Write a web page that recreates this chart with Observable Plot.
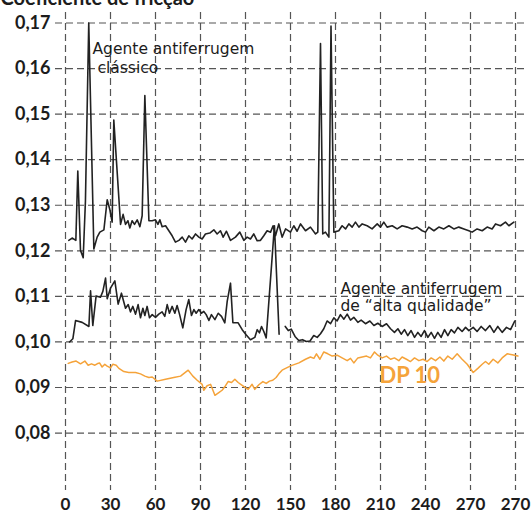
<!DOCTYPE html>
<html>
<head>
<meta charset="utf-8">
<script src="https://cdn.jsdelivr.net/npm/d3@7"></script>
<script src="https://cdn.jsdelivr.net/npm/@observablehq/plot@0.6"></script>
<style>
  html, body { margin: 0; padding: 0; background: #ffffff; }
  #chart { width: 531px; height: 515px; overflow: hidden; }
</style>
</head>
<body>
<div id="chart"></div>
<script>
// ---- Data ----
const titleText = "Coeficiente de fricção";

const xTicks = [0, 30, 60, 90, 120, 150, 180, 210, 240, 270, 300];
const xTickLabels = ["0", "30", "60", "90", "120", "150", "180", "210", "240", "270", "270"];
const yTicks = [0.08, 0.09, 0.10, 0.11, 0.12, 0.13, 0.14, 0.15, 0.16, 0.17];
const yTickLabels = ["0,08", "0,09", "0,10", "0,11", "0,12", "0,13", "0,14", "0,15", "0,16", "0,17"];

// "Agente antiferrugem clássico"
const classicDays = [2.2, 4.4, 6.9, 8.2, 10, 11.8, 13.3, 15.5, 18.9, 21.1, 22.9, 25.6, 27.8, 29.6, 31.1, 32.2,
  36.7, 38.4, 40, 41.6, 42.9, 44.4, 46, 47.8, 49.6, 51.1, 52.9, 55.6, 57.8, 60, 61.6, 62.9, 64.4, 66.7,
  68.9, 71.1, 73.3, 75.6, 77.8, 80, 82.2, 84.4, 86.7, 88.9, 91.1, 93.3, 96.2, 98.9, 101.1, 103.3, 105.1,
  107.3, 110, 113.3, 116.2, 118.9, 121.1, 123.3, 125.5, 127.8, 130, 132.2, 134.4, 136.7, 138.4, 140,
  142.2, 144.4, 146.7, 150, 152.2, 154.4, 156.7, 160, 163.3, 166.7, 168.2, 170, 171.5, 173.3, 175.6, 177,
  178.9, 182.2, 184.4, 186.7, 188.9, 191.1, 193.3, 195.6, 197.8, 201.1, 204.4, 207.8, 210, 212.2, 214.4,
  217.8, 221.1, 224.4, 227.8, 231.1, 234.4, 237.8, 240, 242.2, 245.6, 248.9, 252.2, 255.6, 258.9, 262.2,
  265.6, 268.9, 271.1, 274.4, 277.8, 281.1, 284.4, 286.7, 290, 293.3, 295.6, 298.9];
const classicValues = [0.1223, 0.1228, 0.1223, 0.1375, 0.1201, 0.1185, 0.1310, 0.1700, 0.1204, 0.1230, 0.1241, 0.1246, 0.1312, 0.1290, 0.1263, 0.1487,
  0.1258, 0.1280, 0.1258, 0.1266, 0.1250, 0.1266, 0.1258, 0.1268, 0.1253, 0.1277, 0.1541, 0.1266, 0.1266, 0.1268, 0.1258, 0.1268, 0.1253, 0.1255,
  0.1244, 0.1233, 0.1219, 0.1223, 0.1230, 0.1219, 0.1233, 0.1226, 0.1237, 0.1230, 0.1226, 0.1237, 0.1239, 0.1246, 0.1237, 0.1244, 0.1230,
  0.1243, 0.1223, 0.1230, 0.1241, 0.1223, 0.1230, 0.1226, 0.1237, 0.1222, 0.1223, 0.1233, 0.1244, 0.1241, 0.1255, 0.1233,
  0.1259, 0.1230, 0.1248, 0.1241, 0.1255, 0.1243, 0.1259, 0.1244, 0.1252, 0.1237, 0.1241, 0.1655, 0.1237, 0.1241, 0.1230, 0.1693,
  0.1241, 0.1244, 0.1255, 0.1248, 0.1259, 0.1252, 0.1263, 0.1252, 0.1259, 0.1255, 0.1248, 0.1259, 0.1252, 0.1263, 0.1252,
  0.1255, 0.1248, 0.1255, 0.1252, 0.1248, 0.1252, 0.1244, 0.1241, 0.1252, 0.1244, 0.1252, 0.1248, 0.1255, 0.1248, 0.1252,
  0.1248, 0.1244, 0.1241, 0.1248, 0.1244, 0.1252, 0.1248, 0.1259, 0.1255, 0.1263, 0.1255, 0.1263];

// "Agente antiferrugem de “alta qualidade”" (null = gap in the trace)
const qualityDays = [2.7, 4.9, 6.7, 11.1, 15.6, 16.7, 18.2, 20.4, 23.3, 24.9, 26.7, 27.8, 30, 32.9, 35.1, 37.3,
  40, 41.8, 43.3, 44.9, 46.7, 48.4, 50, 51.6, 52.9, 54.4, 56, 57.8, 60, 62.2, 64.4, 66.2, 67.8, 69.3, 71.1,
  72.9, 74.4, 76, 78.2, 80.4, 82.2, 84, 85.6, 87.1, 88.9, 90.7, 92.2, 93.8, 95.6, 97.3, 99.6, 101.8, 104,
  106.2, 107.8, 110, 111.6, 115.1, 117.8, 120.4, 123.3, 126.2, 127.8, 129.3, 130.7, 132.2, 133.8, 139.3,
  142.4, 144.5, 146.5, 148.5, 150.5, 153, 155.5, 158, 160.5, 163, 165.5, 167.8, 170, 172.2, 174.4, 176.7,
  178.9, 181.1, 183.3, 185.6, 187.8, 190, 192.2, 194.9, 197.1, 200, 202.9, 205.6, 208.2, 211.1, 214, 216.7,
  219.3, 221.6, 223.8, 226, 228.2, 230.4, 232.7, 234.9, 237.1, 239.3, 241.6, 243.8, 246, 248.2, 250.4,
  252.7, 254.9, 257.1, 259.3, 261.6, 264.4, 266.7, 268.9, 271.8, 274.4, 277.1, 280, 282.9, 285.6, 288.2,
  291.1, 294, 296.7, 299.5];
const qualityValues = [0.1000, 0.1007, 0.1047, 0.1043, 0.1034, 0.1112, 0.1036, 0.1101, 0.1098, 0.1111, 0.1140, 0.1095, 0.1118, 0.1134, 0.1083, 0.1107,
  0.1074, 0.1082, 0.1066, 0.1078, 0.1061, 0.1082, 0.1053, 0.1074, 0.1058, 0.1078, 0.1053, 0.1060, 0.1054, 0.1061, 0.1066, 0.1056, 0.1082, 0.1063, 0.1078,
  0.1063, 0.1080, 0.1061, 0.1031, 0.1071, 0.1093, 0.1058, 0.1071, 0.1063, 0.1071, 0.1063, 0.1067, 0.1060, 0.1047, 0.1060, 0.1049, 0.1063, 0.1056,
  0.1042, 0.1089, 0.1129, 0.1042, 0.1042, 0.1027, 0.1016, 0.1005, 0.1010, 0.1027, 0.1020, 0.1034, 0.1023, 0.1009, 0.1255,
  0.1017, null, 0.1034, 0.1025, 0.1028, 0.1012, 0.1003, 0.1005, 0.1001, 0.1002, 0.1014, 0.1010, 0.1018, 0.1029, 0.1046, 0.1040,
  0.1053, 0.1046, 0.1060, 0.1050, 0.1061, 0.1048, 0.1054, 0.1043, 0.1048, 0.1040, 0.1046, 0.1036, 0.1041, 0.1034, 0.1040, 0.1029,
  0.1021, 0.1029, 0.1017, 0.1027, 0.1014, 0.1025, 0.1010, 0.1021, 0.1012, 0.1025, 0.1010, 0.1021, 0.1008, 0.1021, 0.1010,
  0.1027, 0.1014, 0.1027, 0.1020, 0.1032, 0.1023, 0.1032, 0.1025, 0.1032, 0.1023, 0.1034, 0.1025, 0.1036, 0.1021, 0.1034,
  0.1021, 0.1032, 0.1027, 0.1046];

// "DP 10"
const dpDays = [1.8, 4.4, 7.1, 10, 12.9, 15.1, 17.3, 19.6, 21.1, 22.7, 24.4, 26.2, 27.8, 30, 31.6, 33.8, 35.6,
  38.9, 42.2, 46.7, 50, 52.9, 55.6, 57.8, 61.1, 66.7, 72.2, 76.7, 81.8, 84.9, 87.8, 91.1, 92.2, 94.4, 96.7,
  99.6, 102.2, 104.4, 106.7, 108.4, 110.7, 112.9, 115.1, 117.3, 120, 121.8, 124.4, 126.2, 128.9, 131.6,
  133.8, 136, 138.2, 140.4, 142.2, 144.4, 147.4, 150.5, 155.6, 160, 163.3, 165.6, 167.3, 169.6, 172.2,
  174.9, 177.8, 181.1, 184.4, 187.8, 190, 192.2, 194.9, 197.8, 200.7, 203.3, 206, 208.2, 211.1, 214,
  216.7, 219.3, 222.2, 224.4, 227.3, 230, 232.7, 235.6, 238.4, 241.1, 243.8, 246.7, 249.6, 252.2, 254.9,
  257.8, 261.1, 264.4, 267.8, 271.8, 274.9, 277.8, 280, 282.2, 285.1, 288.2, 291.1, 294.4, 297.8, 301.6];
const dpValues = [0.0953, 0.0956, 0.0958, 0.0952, 0.0958, 0.0949, 0.0952, 0.0949, 0.0952, 0.0954, 0.0945, 0.0951, 0.0947, 0.0943, 0.0951, 0.0949, 0.0942,
  0.0935, 0.0933, 0.0933, 0.0930, 0.0925, 0.0922, 0.0923, 0.0914, 0.0918, 0.0922, 0.0925, 0.0938, 0.0925, 0.0916, 0.0907, 0.0894, 0.0904, 0.0907,
  0.0883, 0.0889, 0.0894, 0.0904, 0.0913, 0.0911, 0.0918, 0.0911, 0.0906, 0.0900, 0.0896, 0.0907, 0.0896, 0.0906, 0.0913,
  0.0909, 0.0914, 0.0916, 0.0922, 0.0930, 0.0938, 0.0943, 0.0948, 0.0954, 0.0962, 0.0967, 0.0964, 0.0974, 0.0962, 0.0978,
  0.0974, 0.0969, 0.0971, 0.0965, 0.0959, 0.0964, 0.0954, 0.0965, 0.0967, 0.0969, 0.0965, 0.0978, 0.0971, 0.0965, 0.0969,
  0.0962, 0.0965, 0.0959, 0.0967, 0.0962, 0.0957, 0.0965, 0.0959, 0.0962, 0.0957, 0.0965, 0.0959, 0.0967, 0.0958, 0.0969,
  0.0962, 0.0974, 0.0962, 0.0951, 0.0933, 0.0942, 0.0951, 0.0957, 0.0951, 0.0962, 0.0954, 0.0965, 0.0974, 0.0972, 0.0969];

// ---- Build tables for Plot ----
const toRows = (days, values) => days.map((d, i) => ({day: d, value: values[i] == null ? NaN : values[i]}));
const classic = toRows(classicDays, classicValues);
const quality = toRows(qualityDays, qualityValues);
const dp10 = toRows(dpDays, dpValues);

const xLabelMap = new Map(xTicks.map((t, i) => [t, xTickLabels[i]]));
const yLabelMap = new Map(yTicks.map((t, i) => [t, yTickLabels[i]]));

const gridStyle = {stroke: "#555", strokeOpacity: 1, strokeWidth: 1.2, strokeDasharray: "7,4"};
const annoStyle = {fontFamily: "DejaVu Sans", fontSize: 15.5, fill: "#1c1c1c", textAnchor: "start", lineAnchor: "bottom"};

const chart = Plot.plot({
  width: 531,
  height: 515,
  marginLeft: 55,
  marginRight: 6,
  marginTop: 12,
  marginBottom: 25,
  style: {fontFamily: "Lato, sans-serif", background: "#ffffff", color: "#1c1c1c", overflow: "hidden"},
  x: {domain: [-6.667, 306.667]},
  y: {domain: [0.0674, 0.1723]},
  marks: [
    Plot.gridX(xTicks, gridStyle),
    Plot.gridY(yTicks, gridStyle),
    Plot.axisX(xTicks, {tickSize: 0, tickPadding: 7, tickFormat: d => xLabelMap.get(d),
      fontSize: 17, fontWeight: "bold", label: null}),
    Plot.axisY(yTicks, {tickSize: 0, tickPadding: 5, tickFormat: d => yLabelMap.get(d),
      fontSize: 18, fontWeight: "bold", label: null}),
    Plot.line(dp10, {x: "day", y: "value", stroke: "#f5a33a", strokeWidth: 1.5}),
    Plot.line(quality, {x: "day", y: "value", stroke: "#222", strokeWidth: 1.6}),
    Plot.line(classic, {x: "day", y: "value", stroke: "#222", strokeWidth: 1.6}),
    Plot.text(["Agente antiferrugem"], {x: 18, y: 0.1632, text: d => d, ...annoStyle}),
    Plot.text(["clássico"], {x: 21.3, y: 0.1591, text: d => d, ...annoStyle}),
    Plot.text(["Agente antiferrugem"], {x: 183.3, y: 0.1106, text: d => d, ...annoStyle}),
    Plot.text(["de “alta qualidade”"], {x: 183.3, y: 0.1067, text: d => d, ...annoStyle}),
    Plot.text(["DP 10"], {x: 209.3, y: 0.0911, text: d => d, fontFamily: "Lato", fontWeight: "bold",
      fontSize: 22, fill: "#f5a33a", textAnchor: "start", lineAnchor: "bottom"}),
    Plot.text([titleText], {frameAnchor: "top-left", dx: -55, dy: -8, text: d => d, fontFamily: "Lato",
      fontWeight: "bold", fontSize: 20, fill: "#1c1c1c", textAnchor: "start", lineAnchor: "bottom"})
  ]
});

document.getElementById("chart").appendChild(chart);
</script>
</body>
</html>
